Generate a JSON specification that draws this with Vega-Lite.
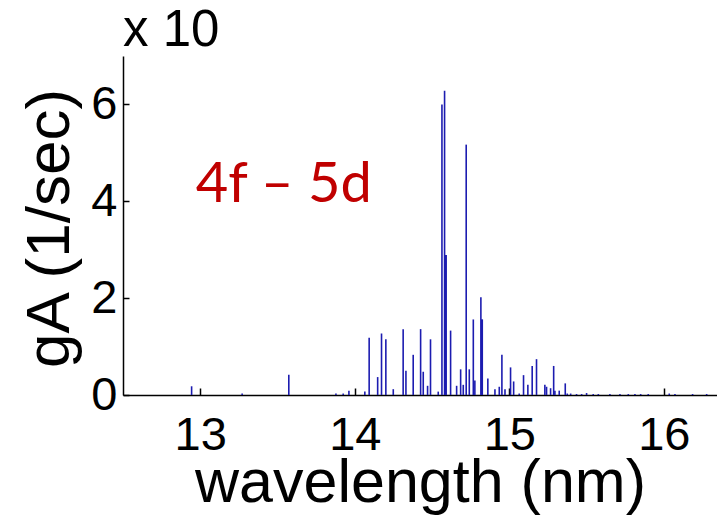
{
  "$schema": "https://vega.github.io/schema/vega-lite/v6.json",
  "width": 594,
  "height": 339,
  "autosize": "none",
  "padding": {"left": 123, "top": 56, "right": 0, "bottom": 120},
  "background": "white",
  "config": {"view": {"stroke": null}, "font": "Liberation Sans"},
  "layer": [
    {
      "data": {"values": [
        {"wl": 12.944, "gA": 0.18}, {"wl": 13.271, "gA": 0.03}, {"wl": 13.573, "gA": 0.42},
        {"wl": 13.878, "gA": 0.03}, {"wl": 13.925, "gA": 0.03}, {"wl": 13.962, "gA": 0.09},
        {"wl": 14.065, "gA": 0.07}, {"wl": 14.093, "gA": 1.18}, {"wl": 14.148, "gA": 0.37},
        {"wl": 14.173, "gA": 1.27}, {"wl": 14.201, "gA": 1.15}, {"wl": 14.249, "gA": 0.12},
        {"wl": 14.313, "gA": 1.36}, {"wl": 14.331, "gA": 0.50}, {"wl": 14.378, "gA": 0.83},
        {"wl": 14.426, "gA": 1.36}, {"wl": 14.443, "gA": 0.48}, {"wl": 14.471, "gA": 0.19},
        {"wl": 14.490, "gA": 1.15}, {"wl": 14.540, "gA": 0.07}, {"wl": 14.564, "gA": 6.0},
        {"wl": 14.581, "gA": 6.28}, {"wl": 14.588, "gA": 2.89}, {"wl": 14.591, "gA": 2.89},
        {"wl": 14.620, "gA": 1.33}, {"wl": 14.659, "gA": 0.19}, {"wl": 14.685, "gA": 0.53},
        {"wl": 14.702, "gA": 0.21}, {"wl": 14.721, "gA": 5.17}, {"wl": 14.741, "gA": 0.53},
        {"wl": 14.767, "gA": 1.56}, {"wl": 14.777, "gA": 0.30}, {"wl": 14.816, "gA": 2.02},
        {"wl": 14.822, "gA": 1.56}, {"wl": 14.825, "gA": 1.56}, {"wl": 14.861, "gA": 0.34},
        {"wl": 14.907, "gA": 0.12}, {"wl": 14.935, "gA": 0.17}, {"wl": 14.952, "gA": 0.83},
        {"wl": 14.972, "gA": 0.12}, {"wl": 15.008, "gA": 0.57}, {"wl": 15.028, "gA": 0.28},
        {"wl": 15.064, "gA": 0.03}, {"wl": 15.092, "gA": 0.41}, {"wl": 15.120, "gA": 0.21},
        {"wl": 15.148, "gA": 0.60}, {"wl": 15.176, "gA": 0.74}, {"wl": 15.230, "gA": 0.21},
        {"wl": 15.241, "gA": 0.17}, {"wl": 15.267, "gA": 0.14}, {"wl": 15.287, "gA": 0.60},
        {"wl": 15.295, "gA": 0.09}, {"wl": 15.323, "gA": 0.09}, {"wl": 15.362, "gA": 0.24},
        {"wl": 15.375, "gA": 0.03}, {"wl": 15.397, "gA": 0.03}, {"wl": 15.435, "gA": 0.02},
        {"wl": 15.468, "gA": 0.02}, {"wl": 15.500, "gA": 0.04}, {"wl": 15.543, "gA": 0.02},
        {"wl": 15.576, "gA": 0.02}, {"wl": 15.651, "gA": 0.02}, {"wl": 15.716, "gA": 0.02},
        {"wl": 15.770, "gA": 0.02}, {"wl": 15.813, "gA": 0.02}, {"wl": 15.850, "gA": 0.02},
        {"wl": 15.899, "gA": 0.02}, {"wl": 16.035, "gA": 0.03}, {"wl": 16.072, "gA": 0.02},
        {"wl": 16.186, "gA": 0.02}, {"wl": 16.277, "gA": 0.02}
      ]},
      "mark": {"type": "rule", "color": "#1c1cb0", "strokeWidth": 1.6},
      "encoding": {
        "x": {
          "field": "wl", "type": "quantitative",
          "scale": {"domain": [12.5, 16.344], "nice": false, "zero": false},
          "axis": {
            "values": [13, 14, 15, 16], "format": "d", "title": "wavelength (nm)", "grid": false,
            "domainColor": "black", "domainWidth": 1.5,
            "tickColor": "black", "tickWidth": 1.5, "tickSize": -7,
            "labelFontSize": 47, "labelColor": "black", "labelPadding": 24,
            "labelFlush": false, "labelOverlap": false,
            "titleFontSize": 61, "titleFontWeight": "normal", "titleColor": "black",
            "titleBaseline": "alphabetic", "titleAlign": "center", "titleX": 297, "titleY": 106
          }
        },
        "y": {
          "field": "gA", "type": "quantitative",
          "scale": {"domain": [0, 7], "nice": false},
          "axis": {
            "values": [0, 2, 4, 6], "format": "d", "title": "gA (1/sec)", "grid": false,
            "domainColor": "black", "domainWidth": 1.5,
            "tickColor": "black", "tickWidth": 1.5, "tickSize": -6,
            "labelFontSize": 47, "labelColor": "black", "labelPadding": 12,
            "labelFlush": false, "labelOverlap": false,
            "titleFontSize": 62, "titleFontWeight": "normal", "titleColor": "black",
            "titleBaseline": "alphabetic", "titleAlign": "center", "titleAngle": 270,
            "titleX": -55, "titleY": 172
          }
        },
        "y2": {"datum": 0}
      }
    },
    {
      "data": {"values": [{"label": "x 10", "wl": 12.5, "gA": 7.2}]},
      "mark": {"type": "text", "align": "left", "baseline": "alphabetic", "fontSize": 51, "font": "Liberation Sans", "color": "black"},
      "encoding": {
        "x": {"field": "wl", "type": "quantitative"},
        "y": {"field": "gA", "type": "quantitative"},
        "text": {"field": "label"}
      }
    },
    {
      "data": {"values": [{"label": "4f – 5d", "wl": 13.54, "gA": 3.985}]},
      "mark": {"type": "text", "align": "center", "baseline": "alphabetic", "fontSize": 56, "font": "Lato", "color": "#c00000"},
      "encoding": {
        "x": {"field": "wl", "type": "quantitative"},
        "y": {"field": "gA", "type": "quantitative"},
        "text": {"field": "label"}
      }
    }
  ]
}
